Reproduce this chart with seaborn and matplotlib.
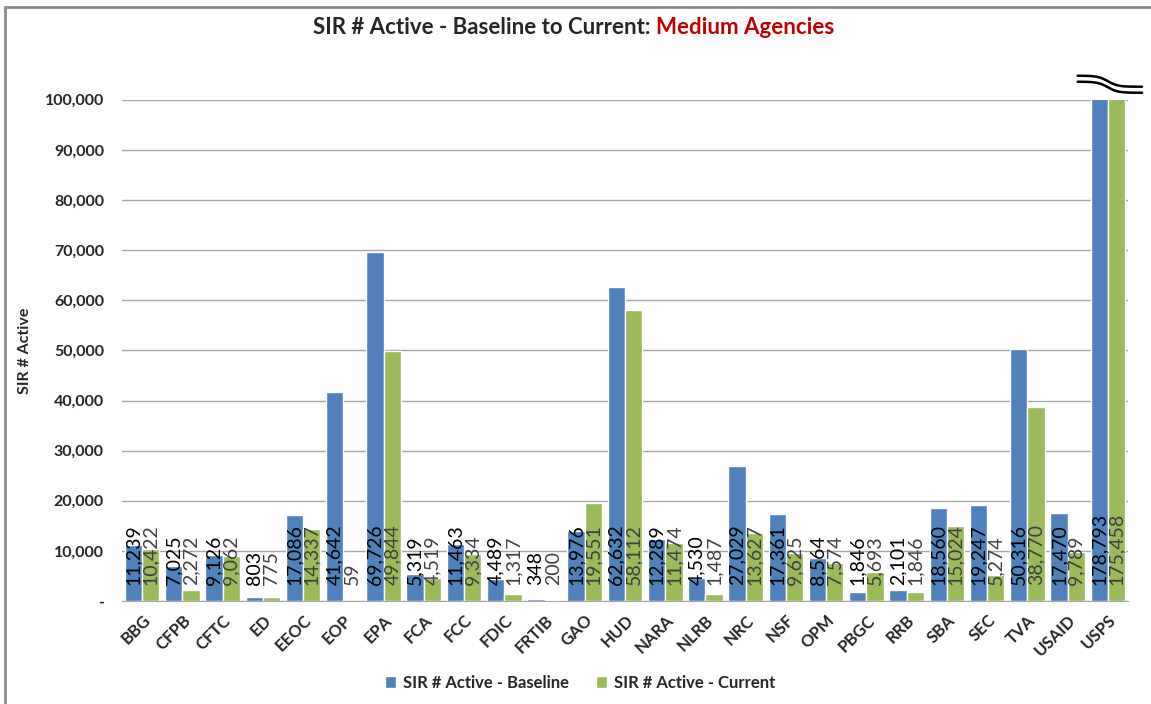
import matplotlib
matplotlib.use("Agg")
import matplotlib.pyplot as plt
import numpy as np
import pandas as pd
import seaborn as sns
from matplotlib.lines import Line2D
from matplotlib.ticker import FuncFormatter

agencies = ['BBG', 'CFPB', 'CFTC', 'ED', 'EEOC', 'EOP', 'EPA', 'FCA', 'FCC', 'FDIC',
            'FRTIB', 'GAO', 'HUD', 'NARA', 'NLRB', 'NRC', 'NSF', 'OPM', 'PBGC', 'RRB',
            'SBA', 'SEC', 'TVA', 'USAID', 'USPS']
baseline = [11239, 7025, 9126, 803, 17086, 41642, 69726, 5319, 11463, 4489,
            348, 13976, 62632, 12289, 4530, 27029, 17361, 8564, 1846, 2101,
            18560, 19247, 50316, 17470, 178793]
current = [10422, 2272, 9062, 775, 14337, 59, 49844, 4519, 9334, 1317,
           200, 19551, 58112, 11474, 1487, 13627, 9625, 7574, 5693, 1846,
           15024, 5274, 38770, 9789, 175458]
series = ['SIR # Active - Baseline', 'SIR # Active - Current']
colors = ['#4F81BD', '#9BBB59']

df = pd.DataFrame({
    'Agency': agencies * 2,
    'Value': baseline + current,
    'Series': [series[0]] * len(agencies) + [series[1]] * len(agencies),
})

sns.set_style('white')
plt.rcParams['font.family'] = ['Lato', 'DejaVu Sans']

fig = plt.figure(figsize=(11.51, 7.04), dpi=100)
ax = fig.add_axes([0.106, 0.1463, 0.874, 0.712])

sns.barplot(data=df, x='Agency', y='Value', hue='Series', palette=colors,
            width=0.86, gap=0, saturation=1, ax=ax, errorbar=None)

ax.set_ylim(0, 100000)
ax.set_yticks(np.arange(0, 100001, 10000))
ax.yaxis.set_major_formatter(FuncFormatter(lambda v, p: '-' if v == 0 else f'{int(v):,}'))
ax.grid(axis='y', color='#A6A6A6', linewidth=1)
ax.set_axisbelow(True)
for s in ['top', 'right', 'left']:
    ax.spines[s].set_visible(False)
ax.spines['bottom'].set_color('#A6A6A6')
ax.tick_params(axis='both', length=0)
ax.tick_params(axis='y', pad=13)
for lab in ax.get_yticklabels():
    lab.set_fontweight('bold')
    lab.set_fontsize(11.5)
ax.set_xticks(range(len(agencies)))
ax.set_xticklabels(agencies, rotation=45, ha='right', rotation_mode='anchor',
                   fontweight='bold', fontsize=12)
ax.tick_params(axis='x', pad=8)
ax.set_xlabel('')
ax.set_ylabel('')

# data labels, written upward from the base of each bar
label_colors = ['black', '#404040']
for cont, lc in zip(ax.containers, label_colors):
    for bar, val in zip(cont, cont.datavalues):
        ax.text(bar.get_x() + bar.get_width() / 2, 3200, f'{int(val):,}',
                rotation=90, ha='center', va='bottom', fontsize=14, color=lc)

# axis-break marks above the USPS bars
xs = np.linspace(23.25, 24.85, 60)
shape = np.tanh((xs - 24.0) * 4)
for off in [0, 1200]:
    ax.plot(xs, 103700 - off - 1100 * shape, color='black', lw=1.8, clip_on=False,
            solid_capstyle='round')
ax.set_xlim(-0.5, len(agencies) - 0.5)

ax.get_legend().remove()
handles, labels = ax.get_legend_handles_labels()
fig.legend(handles, labels, loc='center', bbox_to_anchor=(580 / 1151, 1 - 683 / 704),
           ncol=2, frameon=False, handlelength=0.7, handleheight=0.7, handletextpad=0.4,
           columnspacing=1.6, prop={'weight': 'bold', 'size': 12})

fig.text(25 / 1151, 0.5 * (0.1463 + 0.858), 'SIR # Active', rotation=90,
         ha='center', va='center', fontweight='bold', fontsize=11.5)

# title: black part + red part, centred together
t1 = fig.text(0, 1 - 28 / 704, 'SIR # Active - Baseline to Current: ', fontweight='bold',
              fontsize=16, va='center', ha='left')
t2 = fig.text(0, 1 - 28 / 704, 'Medium Agencies', fontweight='bold', fontsize=16,
              va='center', ha='left', color='#C00000')
fig.canvas.draw()
r = fig.canvas.get_renderer()
w1 = t1.get_window_extent(r).width
w2 = t2.get_window_extent(r).width
x0 = 574 - (w1 + w2) / 2
t1.set_x(x0 / 1151)
t2.set_x((x0 + w1) / 1151)

# chart border (left and top edges)
fig.add_artist(Line2D([5 / 1151, 5 / 1151], [0, 1 - 7 / 704], color='#8C8C8C', lw=2))
fig.add_artist(Line2D([5 / 1151, 1], [1 - 7 / 704, 1 - 7 / 704], color='#8C8C8C', lw=2))

fig.savefig('out.png', dpi=100)
